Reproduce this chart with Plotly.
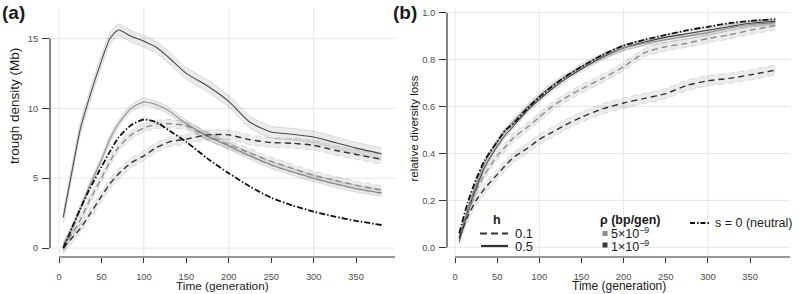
import plotly.graph_objects as go

# ---------------- data ----------------
t = [5, 15, 25, 35, 50, 60, 70, 85, 100, 115, 130, 150, 175, 200, 225, 250, 275, 300, 325, 350, 380]

# panel (a): trough density (Mb)
a_dark_solid = [2.2, 5.4, 8.5, 10.6, 13.4, 15.0, 15.6, 15.15, 14.8, 14.35, 13.6, 12.5, 11.6, 10.5, 9.0, 8.3, 8.15, 7.95, 7.55, 7.15, 6.75]
a_light_solid = [0.1, 1.4, 2.8, 4.3, 6.3, 7.8, 8.9, 10.0, 10.45, 10.25, 9.8, 8.9, 8.0, 7.3, 6.6, 5.95, 5.45, 5.0, 4.6, 4.25, 3.95]
a_light_dash = [0.0, 1.0, 2.0, 3.3, 5.0, 6.2, 7.2, 8.1, 8.6, 8.85, 8.9, 8.75, 8.0, 7.4, 6.8, 6.2, 5.7, 5.2, 4.85, 4.5, 4.15]
a_dark_dash = [0.0, 0.7, 1.4, 2.3, 3.7, 4.6, 5.3, 6.1, 6.6, 7.2, 7.6, 7.8, 8.1, 8.1, 7.75, 7.55, 7.5, 7.35, 7.0, 6.7, 6.35]
a_neutral = [0.0, 1.4, 2.8, 4.1, 5.8, 6.9, 7.9, 8.8, 9.2, 9.0, 8.4, 7.6, 6.4, 5.35, 4.4, 3.6, 3.05, 2.6, 2.25, 1.95, 1.65]

# panel (b): relative diversity loss
b_dark_solid = [0.03, 0.15, 0.25, 0.34, 0.43, 0.48, 0.52, 0.58, 0.63, 0.675, 0.715, 0.76, 0.81, 0.85, 0.875, 0.895, 0.91, 0.925, 0.94, 0.955, 0.963]
b_light_solid = [0.03, 0.16, 0.27, 0.36, 0.45, 0.50, 0.54, 0.595, 0.645, 0.69, 0.725, 0.77, 0.815, 0.85, 0.87, 0.885, 0.90, 0.915, 0.935, 0.95, 0.957]
b_light_dash = [0.04, 0.15, 0.24, 0.31, 0.39, 0.43, 0.47, 0.51, 0.555, 0.60, 0.635, 0.675, 0.72, 0.77, 0.83, 0.855, 0.87, 0.89, 0.905, 0.925, 0.945]
b_dark_dash = [0.04, 0.13, 0.20, 0.25, 0.31, 0.35, 0.385, 0.42, 0.46, 0.49, 0.52, 0.555, 0.59, 0.615, 0.635, 0.655, 0.69, 0.71, 0.72, 0.735, 0.755]
b_neutral = [0.06, 0.19, 0.29, 0.37, 0.45, 0.50, 0.53, 0.59, 0.64, 0.685, 0.725, 0.77, 0.82, 0.86, 0.885, 0.905, 0.925, 0.94, 0.955, 0.965, 0.972]

# ribbon half widths (uncertainty)
a_err = {"dark_solid": 0.42, "light_solid": 0.25, "light_dash": 0.3, "dark_dash": 0.35}
b_err = {"dark_solid": 0.012, "light_solid": 0.012, "light_dash": 0.018, "dark_dash": 0.022}

x_ticks = [0, 50, 100, 150, 200, 250, 300, 350]
x_grid = [0, 100, 200, 300]
a_ticks = [0, 5, 10, 15]
b_ticks = [0.0, 0.2, 0.4, 0.6, 0.8, 1.0]

# ---------------- styling ----------------
W, H = 800, 294
FONT = "Liberation Sans, Arial, Helvetica, sans-serif"
DARK = "#4a4a4a"
LIGHT = "#8c8c8c"
DASH = "6px,4px"
DASHDOT = "6px,2px,1.5px,2px"


def px(x):
    return x / W


def py(y):
    return 1 - y / H


fig = go.Figure()


def add_series(xa, ya, vals, err, color, dash):
    upper = [v + err for v in vals]
    lower = [v - err for v in vals]
    edge = dict(color="rgba(0,0,0,0.15)", width=0.8, dash=dash, shape="spline", smoothing=0.6)
    fig.add_trace(go.Scatter(x=t, y=lower, xaxis=xa, yaxis=ya, mode="lines", line=edge,
                             showlegend=False, hoverinfo="skip"))
    fig.add_trace(go.Scatter(x=t, y=upper, xaxis=xa, yaxis=ya, mode="lines", line=edge,
                             fill="tonexty", fillcolor="rgba(0,0,0,0.08)",
                             showlegend=False, hoverinfo="skip"))
    fig.add_trace(go.Scatter(
        x=t, y=vals, xaxis=xa, yaxis=ya, mode="lines",
        line=dict(color=color, width=1.4 if dash != "solid" else 1.1, dash=dash, shape="spline", smoothing=0.6),
        showlegend=False))


for xa, ya, data, err in [
    ("x", "y", [a_dark_solid, a_light_solid, a_light_dash, a_dark_dash], a_err),
    ("x2", "y2", [b_dark_solid, b_light_solid, b_light_dash, b_dark_dash], b_err),
]:
    add_series(xa, ya, data[0], err["dark_solid"], DARK, "solid")
    add_series(xa, ya, data[1], err["light_solid"], LIGHT, "solid")
    add_series(xa, ya, data[2], err["light_dash"], LIGHT, DASH)
    add_series(xa, ya, data[3], err["dark_dash"], "#333333", DASH)

for xa, ya, vals in [("x", "y", a_neutral), ("x2", "y2", b_neutral)]:
    fig.add_trace(go.Scatter(x=t, y=vals, xaxis=xa, yaxis=ya, mode="lines",
                             line=dict(color="#111111", width=1.8, dash=DASHDOT, shape="spline", smoothing=0.6),
                             showlegend=False))

# ---------------- axes ----------------
tickfont = dict(family=FONT, size=9.3, color="#4d4d4d")
common_x = dict(tickvals=x_ticks, ticks="outside", ticklen=5, tickwidth=1, tickcolor="#333",
                ticklabelstandoff=6,
                showgrid=False, zeroline=False, showline=False, tickfont=tickfont, fixedrange=True)
common_y = dict(ticks="outside", ticklen=7, tickwidth=1, tickcolor="#333", ticklabelstandoff=2,
                showgrid=False, zeroline=False, showline=False, tickfont=tickfont, fixedrange=True)

xa_rng = [-10.6, 395.8]
xb_rng = [-9.5, 397.4]
ya_rng = [-0.64, 17.18]
yb_rng = [-0.041, 1.02]

fig.update_layout(
    xaxis=dict(domain=[px(50), px(395)], range=xa_rng, anchor="y", **common_x),
    yaxis=dict(domain=[py(257), py(8)], range=ya_rng, anchor="x", tickvals=a_ticks, **common_y),
    xaxis2=dict(domain=[px(447), px(790)], range=xb_rng, anchor="y2", **common_x),
    yaxis2=dict(domain=[py(257), py(8)], range=yb_rng, anchor="x2", tickvals=b_ticks,
                ticktext=[f"{v:.1f}" for v in b_ticks], **common_y),
)

shapes = []
grid_col = "#e3e3e3"
for xr, yr, yt, xrng, yrng in [("x", "y", a_ticks, xa_rng, ya_rng), ("x2", "y2", b_ticks, xb_rng, yb_rng)]:
    for g in x_grid:
        shapes.append(dict(type="line", xref=xr, yref=yr + " domain", x0=g, x1=g, y0=0, y1=1,
                           line=dict(color=grid_col, width=0.9), layer="below"))
    for g in yt:
        shapes.append(dict(type="line", xref=xr + " domain", yref=yr, x0=0, x1=1, y0=g, y1=g,
                           line=dict(color=grid_col, width=0.9), layer="below"))
    # capped axis lines
    shapes.append(dict(type="line", xref=xr, yref=yr + " domain", x0=x_ticks[0], x1=xrng[1], y0=0, y1=0,
                       line=dict(color="#333", width=1.2)))
    shapes.append(dict(type="line", xref=xr + " domain", yref=yr, x0=0, x1=0, y0=yt[0], y1=yt[-1],
                       line=dict(color="#333", width=1.2)))

# ---------------- legend (panel b) ----------------
shapes.append(dict(type="line", xref="paper", yref="paper", x0=px(480), x1=px(508), y0=py(233.5), y1=py(233.5),
                   line=dict(color="#333", width=2.2, dash="7px,4px")))
shapes.append(dict(type="line", xref="paper", yref="paper", x0=px(481), x1=px(508), y0=py(246), y1=py(246),
                   line=dict(color="#333", width=2.2)))
shapes.append(dict(type="rect", xref="paper", yref="paper", x0=px(602.5), x1=px(607.5), y0=py(236), y1=py(231),
                   line=dict(width=0), fillcolor="#8c8c8c"))
shapes.append(dict(type="rect", xref="paper", yref="paper", x0=px(602.5), x1=px(607.5), y0=py(247.5), y1=py(242.5),
                   line=dict(width=0), fillcolor="#3a3a3a"))
shapes.append(dict(type="line", xref="paper", yref="paper", x0=px(690), x1=px(710), y0=py(223), y1=py(223),
                   line=dict(color="#111", width=1.8, dash="5px,2px,1.5px,2px")))

fig.update_layout(shapes=shapes)

ann = []


def text(x, y, s, size=12, bold=False, xanchor="left", angle=0, color="#1a1a1a"):
    ann.append(dict(x=px(x), y=py(y), xref="paper", yref="paper", text=f"<b>{s}</b>" if bold else s,
                    showarrow=False, xanchor=xanchor, yanchor="middle", textangle=angle,
                    font=dict(family=FONT, size=size, color=color)))


text(0, 12, "(a)", size=19, bold=True)
text(391, 12, "(b)", size=19, bold=True)
text(222.5, 286, "Time (generation)", size=11.8, xanchor="center")
text(619, 286, "Time (generation)", size=12, xanchor="center")
text(15, 106, "trough density (Mb)", size=13.5, xanchor="center", angle=-90)
text(413, 128.5, "relative diversity loss", size=11.5, xanchor="center", angle=-90)

text(497, 220, "h", size=12.5, bold=True, xanchor="center")
text(513, 233, "0.1", size=13)
text(513, 246, "0.5", size=13)
text(630, 220, "ρ (bp/gen)", size=12.5, bold=True, xanchor="center")
text(609, 233, "5×10<sup>−9</sup>", size=12.5)
text(609, 246, "1×10<sup>−9</sup>", size=12.5)
text(713, 223, "s = 0 (neutral)", size=12.5)

fig.update_layout(
    annotations=ann,
    width=W, height=H,
    margin=dict(l=0, r=0, t=0, b=0),
    paper_bgcolor="white", plot_bgcolor="white",
    showlegend=False,
    font=dict(family=FONT),
)

fig.write_html("out.html")
